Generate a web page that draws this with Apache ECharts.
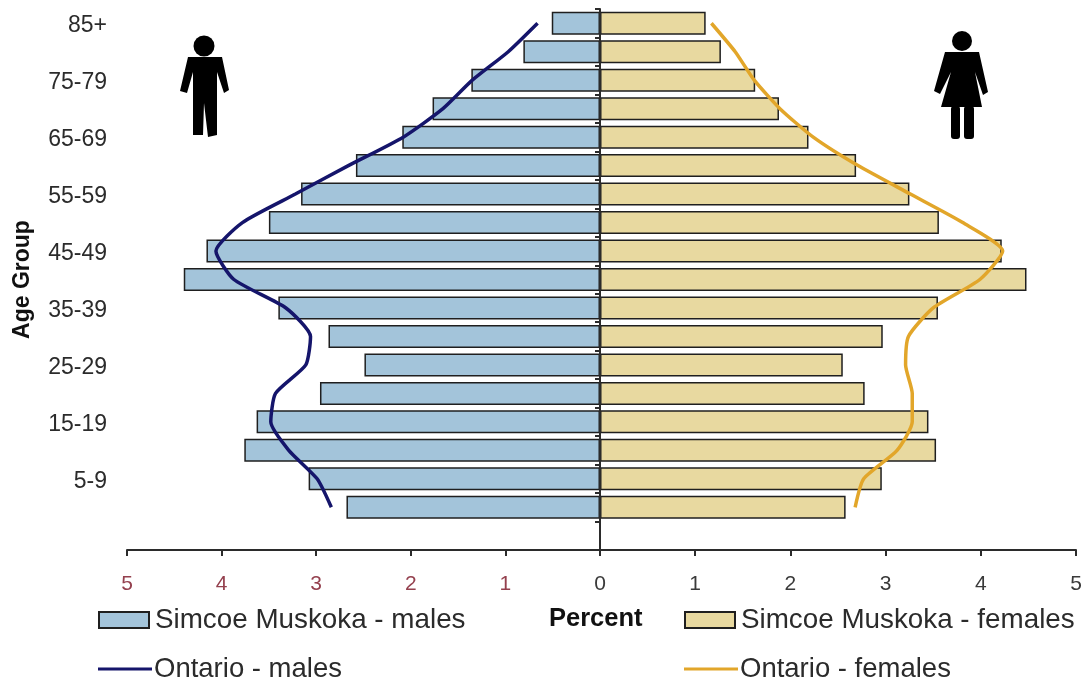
<!DOCTYPE html>
<html><head><meta charset="utf-8">
<style>html,body{margin:0;padding:0;background:#fff}#c{width:1081px;height:680px}</style>
<script src="https://cdn.jsdelivr.net/npm/echarts@6/dist/echarts.min.js"></script>
</head><body><div id="c"></div>
<script>
const ageGroups = ['85+','80-84','75-79','70-74','65-69','60-64','55-59','50-54','45-49','40-44','35-39','30-34','25-29','20-24','15-19','10-14','5-9','0-4',''];
const simcoeMales = [0.51,0.81,1.36,1.77,2.09,2.58,3.16,3.50,4.16,4.40,3.40,2.87,2.49,2.96,3.63,3.76,3.08,2.68];
const simcoeFemales = [1.11,1.27,1.63,1.88,2.19,2.69,3.25,3.56,4.22,4.48,3.55,2.97,2.55,2.78,3.45,3.53,2.96,2.58];
const ontarioMales = [0.66,0.97,1.35,1.66,2.08,2.66,3.22,3.78,4.06,3.87,3.32,3.06,3.11,3.43,3.48,3.29,2.99,2.84];
const ontarioFemales = [1.17,1.42,1.62,1.89,2.24,2.71,3.26,3.81,4.23,3.99,3.50,3.24,3.21,3.28,3.28,3.12,2.77,2.68];

const FONT = '"Liberation Sans", Arial, sans-serif';
const INK = '#2b2b2b';
const NAVY = '#15156b', GOLD = '#e2a62a', BLUE = '#a3c4da', SAND = '#e8d9a0';
const chart = echarts.init(document.getElementById('c'));

const legendBase = {
  orient: 'horizontal', itemWidth: 50, itemHeight: 16, itemGap: 6, selectedMode: false, icon: 'rect',
  textStyle: { fontFamily: FONT, fontSize: 27.8, color: INK, padding: [0,0,0,1] }
};
const lineLegend = { itemHeight: 3, itemWidth: 54, textStyle: { fontFamily: FONT, fontSize: 27.5, color: INK, padding: [0,0,0,-3] } };
const xBase = {
  type: 'value', min: 0, max: 5, interval: 1, splitLine: { show: false },
  axisLine: { show: true, onZero: false, lineStyle: { color: INK, width: 2 } },
  axisTick: { show: true, length: 6, lineStyle: { color: INK, width: 2 } }
};
const yBase = { type: 'category', data: ageGroups, inverse: true };
const barBase = { type: 'bar', barWidth: 23, z: 2 };

chart.setOption({
  animation: false,
  backgroundColor: '#fff',
  grid: [
    { left: 127, width: 473, top: 9, height: 541, outerBoundsMode: 'none' },
    { left: 600, width: 476, top: 9, height: 541, outerBoundsMode: 'none' }
  ],
  xAxis: [
    Object.assign({}, xBase, { gridIndex: 0, inverse: true,
      axisLabel: { margin: 24, showMinLabel: false, fontFamily: FONT, fontSize: 21, color: '#94404e' } }),
    Object.assign({}, xBase, { gridIndex: 1,
      axisLabel: { margin: 24, fontFamily: FONT, fontSize: 21, color: '#3a3a3a' } })
  ],
  yAxis: [
    Object.assign({}, yBase, { gridIndex: 0, position: 'left',
      axisLine: { show: false, onZero: false }, axisTick: { show: false },
      axisLabel: { interval: 1, margin: 20, formatter: '{a|{value}}',
        rich: { a: { fontFamily: FONT, fontSize: 23, color: INK, padding: [5,0,0,0] } } },
      name: 'Age Group', nameLocation: 'middle', nameRotate: 90, nameGap: 93,
      nameTextStyle: { fontFamily: FONT, fontSize: 23, fontWeight: 'bold', color: '#111' } }),
    Object.assign({}, yBase, { gridIndex: 1, position: 'left', z: 5,
      axisLine: { show: true, onZero: false, lineStyle: { color: INK, width: 2 } },
      axisTick: { show: true, length: 5, lineStyle: { color: INK, width: 2 } },
      axisLabel: { show: false } })
  ],
  legend: [
    Object.assign({}, legendBase, { left: 93, top: 601, data: ['Simcoe Muskoka - males'] }),
    Object.assign({}, legendBase, { left: 679, top: 601, data: ['Simcoe Muskoka - females'] }),
    Object.assign({}, legendBase, lineLegend, { left: 93, top: 650, data: ['Ontario - males'] }),
    Object.assign({}, legendBase, lineLegend, { left: 679, top: 650, data: ['Ontario - females'] })
  ],
  series: [
    Object.assign({}, barBase, { name: 'Simcoe Muskoka - males', xAxisIndex: 0, yAxisIndex: 0, data: simcoeMales,
      itemStyle: { color: BLUE, borderColor: '#1f1f1f', borderWidth: 1.5 } }),
    Object.assign({}, barBase, { name: 'Simcoe Muskoka - females', xAxisIndex: 1, yAxisIndex: 1, data: simcoeFemales,
      itemStyle: { color: SAND, borderColor: '#1f1f1f', borderWidth: 1.5 } }),
    { type: 'line', name: 'Ontario - males', xAxisIndex: 0, yAxisIndex: 0, data: ontarioMales, smooth: 0.2,
      showSymbol: false, symbol: 'none', z: 4, lineStyle: { color: NAVY, width: 3.5 }, itemStyle: { color: NAVY } },
    { type: 'line', name: 'Ontario - females', xAxisIndex: 1, yAxisIndex: 1, data: ontarioFemales, smooth: 0.2,
      showSymbol: false, symbol: 'none', z: 4, lineStyle: { color: GOLD, width: 3.5 }, itemStyle: { color: GOLD } }
  ],
  graphic: [
    { type: 'text', left: 549, top: 606, style: { text: 'Percent', fill: '#111', font: 'bold 25.5px ' + FONT } },
    { type: 'circle', shape: { cx: 204, cy: 46, r: 10.5 }, style: { fill: '#000' } },
    { type: 'polygon', shape: { points: [[188,57],[222,57],[229,90],[224,93],[217,72],[217,135],[208,137],[204,103],[203,135],[193,135],[193,72],[187,93],[180,91]] }, style: { fill: '#000' } },
    { type: 'circle', shape: { cx: 962, cy: 41, r: 10 }, style: { fill: '#000' } },
    { type: 'polygon', shape: { points: [[945,52],[979,52],[988,92],[983,95],[975,72],[982,107],[941,107],[951,72],[940,94],[934,91]] }, style: { fill: '#000' } },
    { type: 'rect', shape: { x: 951, y: 106, width: 9, height: 33, r: 3 }, style: { fill: '#000' } },
    { type: 'rect', shape: { x: 964, y: 106, width: 10, height: 33, r: 3 }, style: { fill: '#000' } }
  ]
});
</script></body></html>
